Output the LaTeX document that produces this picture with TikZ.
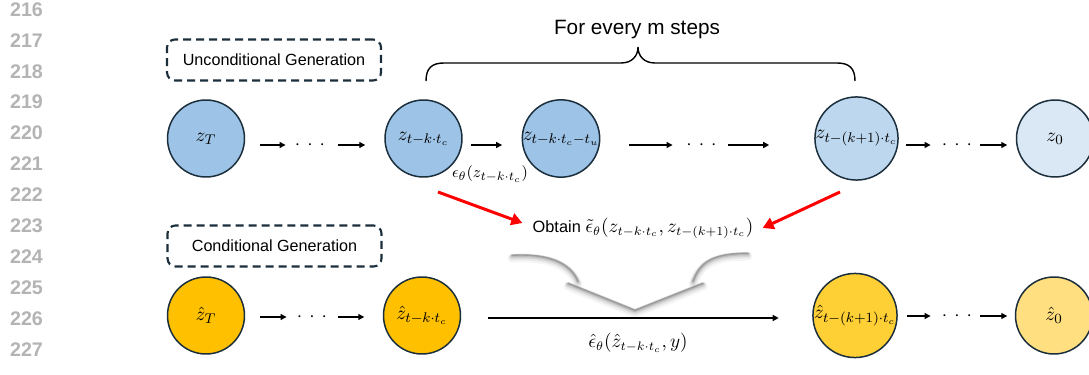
\documentclass[tikz,border=0pt]{standalone}
\usepackage{fontspec}
\setmainfont{Liberation Sans}
\usetikzlibrary{arrows.meta,calc}

\definecolor{navy}{HTML}{1B2E3C}
\definecolor{lnum}{HTML}{B4B4B4}
\definecolor{blueA}{HTML}{9DC3E6}
\definecolor{blueB}{HTML}{BDD7EE}
\definecolor{blueC}{HTML}{DAE8F5}
\definecolor{goldA}{HTML}{FFC000}
\definecolor{goldB}{HTML}{FFD035}
\definecolor{goldC}{HTML}{FFDF80}

\newcommand{\skipdots}{$\cdotp\hspace{2.2pt}\cdotp\hspace{2.2pt}\cdotp$}

\begin{document}
\begin{tikzpicture}[x=0.02cm,y=-0.02cm,
  latent/.style={circle, draw=navy, line width=0.85pt, minimum size=1.54cm,
    inner sep=0pt, font=\fontsize{10.8}{12}\selectfont},
  arr/.style={-{Triangle[length=0.12cm,width=0.12cm]}, line width=0.75pt},
  redarr/.style={-{Triangle[length=0.22cm,width=0.24cm]}, draw=red, line width=1.7pt},
  modebox/.style={draw=navy, dash pattern=on 0.16cm off 0.1cm, line width=1.2pt,
    rounded corners=0.16cm, minimum width=4.28cm, minimum height=0.82cm,
    inner sep=0pt, font=\fontsize{9.2}{11}\selectfont},
  dotsn/.style={inner sep=0pt, font=\fontsize{11}{12}\selectfont},
  lineno/.style={text=lnum, inner sep=0pt, font=\fontsize{11.2}{13}\selectfont\bfseries},
  mlabel/.style={inner sep=0pt, font=\fontsize{10.5}{12}\selectfont},
  shade/.style={draw=black!55, line cap=round, line join=round}
]
\useasboundingbox[fill=white] (0,0) rectangle (1089,375);

% line numbers in the margin
\foreach \n [count=\i from 0] in {216,...,227}
  \node[lineno] (ln\n) at (26.5,9.5+30.9*\i) {\n};

% mode labels
\node[modebox] (uncond) at (274,60) {Unconditional Generation};
\node[modebox] (cond) at (274.5,246) {Conditional Generation};

% unconditional chain
\node[latent, fill=blueA] (zT)   at (206,138.5)   {$z_T$};
\node[latent, fill=blueA] (ztk)  at (423.5,138.5) {$z_{t-k\cdot t_c}$};
\node[latent, fill=blueA] (ztu)  at (561,138.5)   {$z_{t-k\cdot t_c-t_u}$};
\node[latent, fill=blueB] (ztk1) at (856.5,138.5) {$z_{t-(k+1)\cdot t_c}$};
\node[latent, fill=blueC] (z0)   at (1055,138.5)  {$z_0$};

\node[dotsn] (d1) at (310,145)   {\skipdots};
\node[dotsn] (d2) at (701.5,145) {\skipdots};
\node[dotsn] (d3) at (957,145)   {\skipdots};

\draw[arr, shorten <=0.29cm, shorten >=0.18cm] (zT.east |- d1) -- (d1.west);
\draw[arr, shorten <=0.26cm, shorten >=0.38cm] (d1.east) -- (ztk.west |- d1);
\draw[arr, shorten <=0.16cm, shorten >=0.39cm] (ztk.east |- d1) -- (ztu.west |- d1);
\draw[arr, shorten <=0.57cm, shorten >=0.27cm] (ztu.east |- d2) -- (d2.west);
\draw[arr, shorten <=0.23cm, shorten >=0.90cm] (d2.east) -- (ztk1.west |- d2);
\draw[arr, shorten <=0.14cm, shorten >=0.22cm] (ztk1.east |- d3) -- (d3.west);
\draw[arr, shorten <=0.16cm, shorten >=0.17cm] (d3.east) -- (z0.west |- d3);

\node[inner sep=0pt, font=\fontsize{9.5}{11}\selectfont] (eps) at (490,174)
  {$\epsilon_\theta(z_{t-k\cdot t_c})$};

% brace over the skipped steps
\node[inner sep=0pt, font=\fontsize{11.8}{14}\selectfont] (every) at (637,30) {For every m steps};
\coordinate (brL) at (426,81);
\coordinate (brR) at (855,81);
\draw[line width=0.8pt] (brL) .. controls (426,68) and (432,63) .. (444,63)
  -- (621,63) .. controls (632,63) and (638,56) .. (638,47)
  .. controls (638,56) and (644,63) .. (655,63)
  -- (837,63) .. controls (849,63) and (855,68) .. (brR);

% combined guidance estimate
\node[inner sep=0pt] (obt) at (643,228)
  {{\fontsize{9.3}{11}\selectfont Obtain }{\fontsize{10.5}{12}\selectfont$\tilde{\epsilon}_\theta(z_{t-k\cdot t_c},z_{t-(k+1)\cdot t_c})$}};
\draw[redarr] ($(ztk)+(14.5,53.5)$) -- ($(obt.west)+(-10,-5)$);
\draw[redarr] ($(ztk1)+(-16.5,53.5)$) -- ($(obt.east)+(9,0)$);

% soft funnel pointing down to the conditional step
\foreach \d/\w/\o in {3.2/0.18/0.06, 2.4/0.13/0.1, 1.6/0.09/0.16, 0.9/0.055/0.26, 0.3/0.028/0.42} {
  \begin{scope}[yshift=-\d*0.02cm]
    \draw[shade, line width=\w cm, opacity=\o]
      (512,255) .. controls (548,253) and (570,262) .. (578,281);
    \draw[shade, line width=\w cm, opacity=\o]
      (748,253) .. controls (712,253) and (700,262) .. (693,281);
    \draw[shade, line width=\w cm, opacity=\o]
      (568,283) -- (635,310) -- (703,283);
  \end{scope}
}

% conditional chain
\node[latent, fill=goldA] (hT)   at (206,315.5) {$\hat{z}_T$};
\node[latent, fill=goldA] (htk)  at (422,315.5) {$\hat{z}_{t-k\cdot t_c}$};
\node[latent, fill=goldB] (htk1) at (855,315.5) {$\hat{z}_{t-(k+1)\cdot t_c}$};
\node[latent, fill=goldC] (h0)   at (1054,315.5) {$\hat{z}_0$};

\node[dotsn] (d4) at (312,317) {\skipdots};
\node[dotsn] (d5) at (957,316) {\skipdots};
\coordinate (mid) at (638,318);

\draw[arr, shorten <=0.29cm, shorten >=0.2cm] (hT.east |- d4) -- (d4.west);
\draw[arr, shorten <=0.22cm, shorten >=0.37cm] (d4.east) -- (htk.west |- d4);
\draw[arr, shorten <=0.53cm, shorten >=0.67cm] (htk.east |- mid) -- (htk1.west |- mid);
\draw[arr, shorten <=0.19cm, shorten >=0.22cm] (htk1.east |- d5) -- (d5.west);
\draw[arr, shorten <=0.16cm, shorten >=0.15cm] (d5.east) -- (h0.west |- d5);

\node[mlabel] (epsh) at (638,343) {$\hat{\epsilon}_\theta(\hat{z}_{t-k\cdot t_c},y)$};
\end{tikzpicture}
\end{document}
